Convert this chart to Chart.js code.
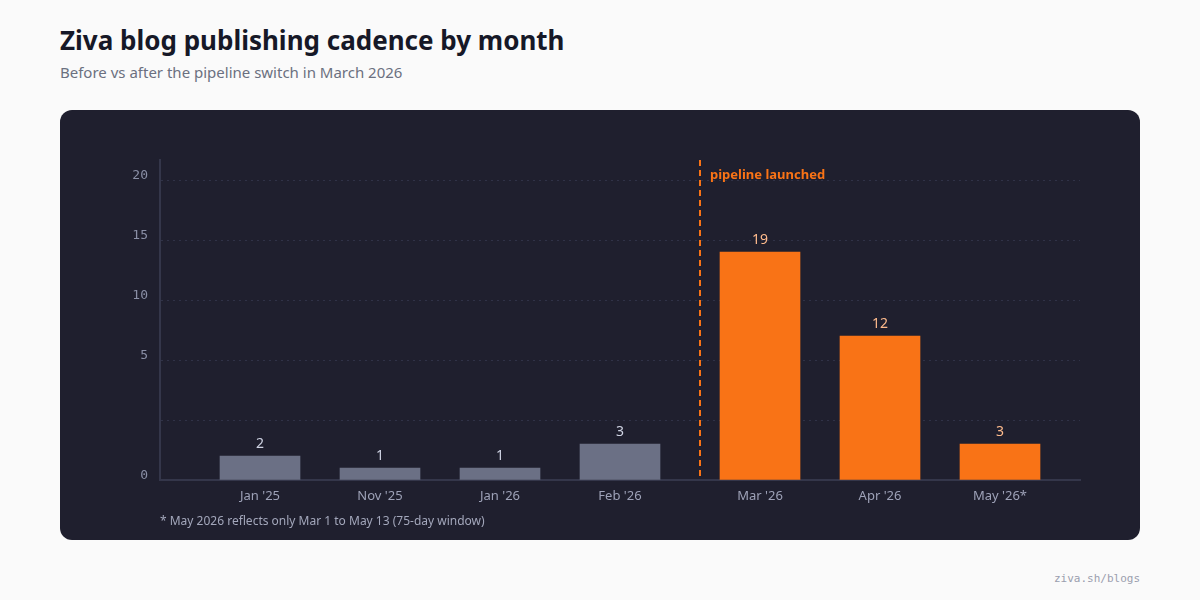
<!DOCTYPE html>
<html>
<head>
  <title>Ziva blog publishing cadence</title>
  <script src="https://cdn.jsdelivr.net/npm/chart.js@4.4.1/dist/chart.umd.min.js"></script>
  <style>
    html, body { margin: 0; padding: 0; }
    body { width: 1200px; height: 600px; background: #fafafa; position: relative; font-family: "Noto Sans", sans-serif; overflow: hidden; }
    h1 { position: absolute; left: 60px; top: 22px; margin: 0; font-size: 26px; font-weight: 700; color: #161827; }
    .sub { position: absolute; left: 60px; top: 62px; font-size: 15px; color: #6b7080; }
    .panel { position: absolute; left: 60px; top: 110px; width: 1080px; height: 430px; background: #1f1f2e; border-radius: 12px; }
    .panel canvas { position: absolute; left: 0; top: 0; }
    .note { position: absolute; left: 100px; top: 402px; font-size: 12px; color: #a3a7bb; }
    .src { position: absolute; right: 60px; top: 572px; font-family: "DejaVu Sans Mono", monospace; font-size: 11px; color: #9a9eae; }
  </style>
</head>
<body>
  <h1>Ziva blog publishing cadence by month</h1>
  <div class="sub">Before vs after the pipeline switch in March 2026</div>
  <div class="panel">
    <canvas id="cadenceChart" width="1080" height="430"></canvas>
    <div class="note">* May 2026 reflects only Mar 1 to May 13 (75-day window)</div>
  </div>
  <div class="src">ziva.sh/blogs</div>

  <script>
    // months and post counts
    const beforeMonths = ["Jan '25", "Nov '25", "Jan '26", "Feb '26"];
    const beforeCounts = [2, 1, 1, 3];
    const afterMonths = ["Mar '26", "Apr '26", "May '26*"];
    const afterCounts = [19, 12, 3];
    // y tick labels as printed on the gridlines, bottom to top
    const yTickLabels = ['0', '', '5', '10', '15', '20'];
    const switchLabel = 'pipeline launched';

    // layout: the after-switch months sit a little apart from the rest
    const afterShift = 1 / 6;
    const switchPos = beforeMonths.length - 1 + 2 / 3;

    const beforeData = beforeCounts.map((v, i) => ({ x: i, y: v }));
    const afterData = afterCounts.map((v, i) => ({ x: beforeMonths.length + i + afterShift, y: v }));
    const allMonths = beforeMonths.concat(afterMonths);
    const tickPositions = beforeData.concat(afterData).map(p => p.x);

    const orange = '#f97316';

    const switchLine = {
      id: 'switchLine',
      beforeDatasetsDraw(chart) {
        const { ctx, chartArea } = chart;
        const x = chart.scales.x.getPixelForValue(switchPos);
        ctx.save();
        ctx.strokeStyle = orange;
        ctx.lineWidth = 2;
        ctx.setLineDash([6, 4]);
        ctx.beginPath();
        ctx.moveTo(x, chartArea.top);
        ctx.lineTo(x, chartArea.bottom);
        ctx.stroke();
        ctx.setLineDash([]);
        ctx.fillStyle = orange;
        ctx.font = 'bold 13px "Noto Sans"';
        ctx.textBaseline = 'middle';
        ctx.fillText(switchLabel, x + 10, chartArea.top + 15);
        ctx.restore();
      }
    };

    const valueLabels = {
      id: 'valueLabels',
      afterDatasetsDraw(chart) {
        const { ctx } = chart;
        ctx.save();
        ctx.font = '14px "Noto Sans"';
        ctx.textAlign = 'center';
        ctx.textBaseline = 'bottom';
        chart.data.datasets.forEach((ds, di) => {
          ctx.fillStyle = di === 0 ? '#cfd3e3' : '#fdba8c';
          chart.getDatasetMeta(di).data.forEach((bar, i) => {
            ctx.fillText(ds.data[i].y, bar.x, bar.y - 5);
          });
        });
        ctx.restore();
      }
    };

    new Chart(document.getElementById('cadenceChart'), {
      type: 'bar',
      data: {
        datasets: [
          { label: 'Before', data: beforeData, backgroundColor: '#6b7085', barThickness: 80, grouped: false },
          { label: 'After', data: afterData, backgroundColor: orange, barThickness: 80, grouped: false }
        ]
      },
      options: {
        responsive: false,
        animation: false,
        layout: { padding: { top: 50, right: 60, bottom: 0, left: 0 } },
        plugins: { legend: { display: false }, tooltip: { enabled: false } },
        scales: {
          x: {
            type: 'linear',
            offset: false,
            min: -5 / 6,
            max: allMonths.length - 1 + afterShift + 2 / 3,
            afterBuildTicks: scale => { scale.ticks = tickPositions.map(v => ({ value: v })); },
            afterFit: scale => { scale.height = 60; },
            grid: { display: false, drawTicks: false },
            border: { color: '#34364a', width: 2 },
            ticks: {
              autoSkip: false,
              maxRotation: 0,
              padding: 8,
              color: '#9ea2b8',
              font: { family: 'Noto Sans', size: 13 },
              callback: (v, i) => allMonths[i]
            }
          },
          y: {
            min: 0,
            max: 320 / 12,
            afterBuildTicks: scale => { scale.ticks = yTickLabels.map((l, i) => ({ value: i * 5 })); },
            afterFit: scale => { scale.width = 100; },
            grid: {
              color: ctx => ctx.tick.value === 0 ? 'rgba(0,0,0,0)' : '#303247',
              drawTicks: false,
              lineWidth: 1
            },
            border: { color: '#34364a', width: 2, dash: [2, 4] },
            ticks: {
              padding: 12,
              labelOffset: -4,
              color: '#8a8fa6',
              font: { family: 'DejaVu Sans Mono', size: 13 },
              callback: (v, i) => yTickLabels[i]
            }
          }
        }
      },
      plugins: [switchLine, valueLabels]
    });
  </script>
</body>
</html>
